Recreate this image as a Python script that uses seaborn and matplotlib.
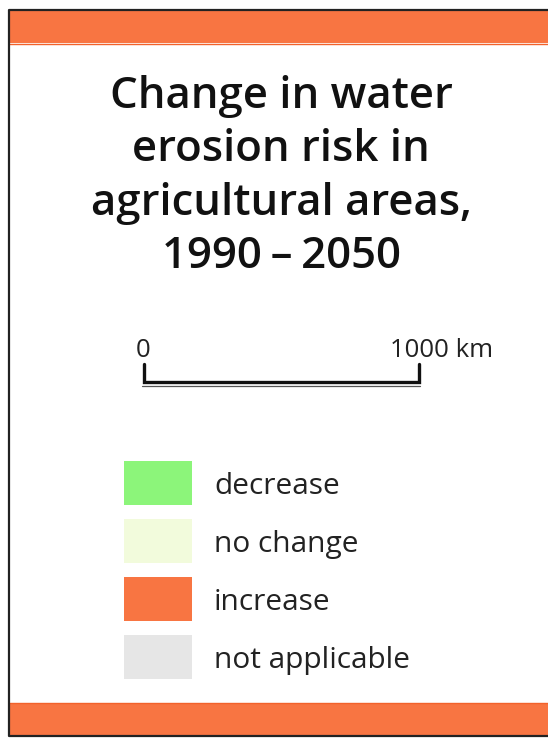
import matplotlib
matplotlib.use("Agg")
import matplotlib.pyplot as plt
import seaborn as sns
import pandas as pd
from matplotlib.patches import Rectangle

# ---- data ----
title_lines = ["Change in water", "erosion risk in", "agricultural areas,", "1990\u2009\u2013\u20092050"]
scale_labels = ["0", "1000 km"]
categories = ["decrease", "no change", "increase", "not applicable"]
colors = ["#8cf57a", "#f2fbdc", "#f87542", "#e6e6e6"]
swatch_values = [1, 1, 1, 1]

sns.set_theme(style="white")
plt.rcParams["font.family"] = ["Open Sans", "DejaVu Sans"]

W, H = 548, 738
fig = plt.figure(figsize=(W / 100, H / 100), dpi=100)
fig.patch.set_facecolor("white")

bg = fig.add_axes([0, 0, 1, 1])
bg.set_xlim(0, W)
bg.set_ylim(H, 0)
bg.axis("off")

orange = "#f87542"
bg.add_patch(Rectangle((9, 10), W - 9, 33, facecolor=orange, edgecolor="none"))
bg.plot([9, W], [43.5, 43.5], color="#f2622c", lw=1.0)
bg.add_patch(Rectangle((9, 703), W - 9, 32, facecolor=orange, edgecolor="none"))
bg.plot([9, W], [703, 703], color="#f2622c", lw=1.0)
bg.plot([W, 8.5, 8.5, W], [9.5, 9.5, 736, 736], color="#222222", lw=1.6, solid_capstyle="butt")

for i, line in enumerate(title_lines):
    bg.text(281, 108 + i * 53.3, line, ha="center", va="baseline",
            fontsize=31.5, fontweight="semibold", color="#111111",
            family=["Open Sans", "DejaVu Sans"])

bg.text(143, 357, scale_labels[0], ha="center", va="baseline", fontsize=18.5,
        color="#222222")
bg.text(390, 357, scale_labels[1], ha="left", va="baseline", fontsize=18.5,
        color="#222222")
bg.plot([143.5, 143.5, 418.5, 418.5], [364, 382, 382, 364], color="#111111", lw=2.4,
        solid_joinstyle="miter")
bg.plot([142, 420], [386, 386], color="#555555", lw=0.9)

top_px, slot = 454, 58
lax = fig.add_axes([124 / W, 1 - (top_px + slot * len(categories)) / H,
                    68 / W, slot * len(categories) / H])
df = pd.DataFrame({"cat": categories, "v": swatch_values})
sns.barplot(data=df, x="v", y="cat", hue="cat", palette=colors, width=0.76,
            orient="h", ax=lax, legend=False, saturation=1, edgecolor="none")
lax.set_xlim(0, 1)
lax.axis("off")

for i, cat in enumerate(categories):
    bg.text(214, top_px + slot * i + slot / 2 + 3.5, cat, ha="left", va="center",
            fontsize=21.5, color="#222222")

fig.savefig("out.png", dpi=100, facecolor="white")
